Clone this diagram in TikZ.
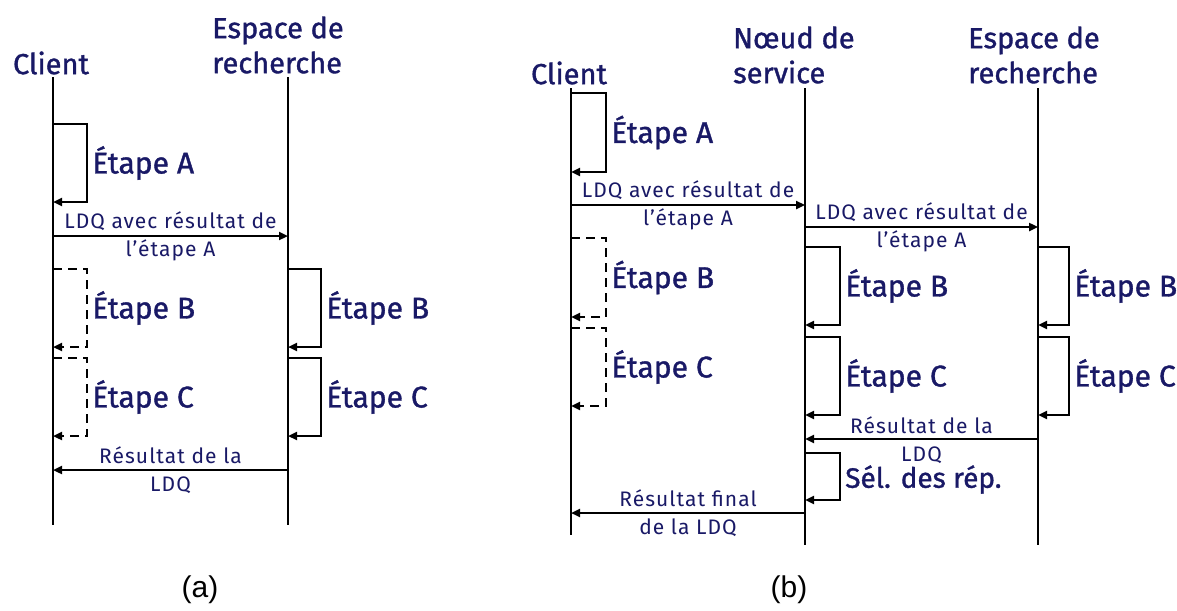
\documentclass[tikz,border=0pt]{standalone}
\usepackage{fontspec}
\setmainfont{Fira Sans}
\newfontfamily\heavyfont[FakeBold=1.2]{Fira Sans}
\newfontfamily\smallfont[LetterSpace=5]{Fira Sans}
\newfontfamily\capfont{Liberation Sans}
\usetikzlibrary{arrows.meta}
\definecolor{navy}{HTML}{191966}
\begin{document}
\begin{tikzpicture}[x=1pt,y=-1pt,
  life/.style={line width=2.7pt},
  msg/.style={line width=2.5pt,-{Triangle[length=9pt,width=8pt]}},
  selfloop/.style={line width=2.5pt,-{Triangle[length=9pt,width=8pt]}},
  dloop/.style={selfloop,dash pattern=on 9pt off 6pt},
  hdr/.style={text=navy,font=\heavyfont\fontsize{29}{35}\selectfont,align=left,inner sep=0pt},
  steplbl/.style={text=navy,font=\heavyfont\fontsize{30}{34}\selectfont,anchor=west,inner sep=0pt,xshift=4pt},
  lbl/.style={text=navy,font=\smallfont\fontsize{21}{28}\selectfont,align=center,inner sep=0pt},
  sublbl/.style={font=\capfont\fontsize{30}{34}\selectfont,inner sep=0pt}]
\useasboundingbox (0,0) rectangle (1177,610);
% ---------------- panel (a) ----------------
\node[hdr] (aClient) at (51,63) {Client};
\node[hdr,anchor=west] (aEsp) at (212,45) {Espace de\\recherche};
\coordinate (aCt) at (53,77);  \coordinate (aCb) at (53,525);
\coordinate (aEt) at (288,77); \coordinate (aEb) at (288,525);
\draw[life] (aCt) -- (aCb);
\draw[life] (aEt) -- (aEb);
\coordinate (aA1) at (53,124); \coordinate (aA2) at (53,202);
\draw[selfloop] (aA1) -- ++(34,0) |- node[pos=0.25,steplbl] (aStA) {Étape A} (aA2);
\coordinate (aM1s) at (53,236); \coordinate (aM1e) at (288,236);
\draw[msg] (aM1s) -- node[lbl] (aL1) {LDQ avec résultat de\\l’étape A} (aM1e);
\coordinate (aB1) at (53,269); \coordinate (aB2) at (53,347);
\draw[dloop] (aB1) -- ++(34,0) |- node[pos=0.25,steplbl] (aStB) {Étape B} (aB2);
\coordinate (aC1) at (53,358); \coordinate (aC2) at (53,436);
\draw[dloop] (aC1) -- ++(34,0) |- node[pos=0.25,steplbl] (aStC) {Étape C} (aC2);
\coordinate (aEB1) at (288,269); \coordinate (aEB2) at (288,347);
\draw[selfloop] (aEB1) -- ++(33,0) |- node[pos=0.25,steplbl] (aStEB) {Étape B} (aEB2);
\coordinate (aEC1) at (288,358); \coordinate (aEC2) at (288,436);
\draw[selfloop] (aEC1) -- ++(33,0) |- node[pos=0.25,steplbl] (aStEC) {Étape C} (aEC2);
\coordinate (aM2s) at (288,470); \coordinate (aM2e) at (53,470);
\draw[msg] (aM2s) -- node[lbl] (aL2) {Résultat de la\\LDQ} (aM2e);
\node[sublbl] (capA) at (200,590) {(a)};
% ---------------- panel (b) ----------------
\node[hdr] (bClient) at (569,73) {Client};
\node[hdr,anchor=west] (bNoeud) at (733,55) {Nœud de\\service};
\node[hdr,anchor=west] (bEsp) at (968,55) {Espace de\\recherche};
\coordinate (bCt) at (571,88);  \coordinate (bCb) at (571,535);
\coordinate (bNt) at (805,88);  \coordinate (bNb) at (805,545);
\coordinate (bEt) at (1038,88); \coordinate (bEb) at (1038,545);
\draw[life] (bCt) -- (bCb);
\draw[life] (bNt) -- (bNb);
\draw[life] (bEt) -- (bEb);
\coordinate (bA1) at (571,93); \coordinate (bA2) at (571,172);
\draw[selfloop] (bA1) -- ++(35,0) |- node[pos=0.25,steplbl] (bStA) {Étape A} (bA2);
\coordinate (bM1s) at (571,205); \coordinate (bM1e) at (805,205);
\draw[msg] (bM1s) -- node[lbl] (bL1) {LDQ avec résultat de\\l’étape A} (bM1e);
\coordinate (bM2s) at (805,227); \coordinate (bM2e) at (1038,227);
\draw[msg] (bM2s) -- node[lbl] (bL2) {LDQ avec résultat de\\l’étape A} (bM2e);
\coordinate (bB1) at (571,238); \coordinate (bB2) at (571,317);
\draw[dloop] (bB1) -- ++(35,0) |- node[pos=0.25,steplbl] (bStB) {Étape B} (bB2);
\coordinate (bC1) at (571,328); \coordinate (bC2) at (571,406);
\draw[dloop] (bC1) -- ++(35,0) |- node[pos=0.25,steplbl] (bStC) {Étape C} (bC2);
\coordinate (bNB1) at (805,247); \coordinate (bNB2) at (805,325);
\draw[selfloop] (bNB1) -- ++(35,0) |- node[pos=0.25,steplbl] (bStNB) {Étape B} (bNB2);
\coordinate (bNC1) at (805,337); \coordinate (bNC2) at (805,415);
\draw[selfloop] (bNC1) -- ++(35,0) |- node[pos=0.25,steplbl] (bStNC) {Étape C} (bNC2);
\coordinate (bEB1) at (1038,247); \coordinate (bEB2) at (1038,325);
\draw[selfloop] (bEB1) -- ++(31,0) |- node[pos=0.25,steplbl] (bStEB) {Étape B} (bEB2);
\coordinate (bEC1) at (1038,337); \coordinate (bEC2) at (1038,415);
\draw[selfloop] (bEC1) -- ++(31,0) |- node[pos=0.25,steplbl] (bStEC) {Étape C} (bEC2);
\coordinate (bM3s) at (1038,439); \coordinate (bM3e) at (805,439);
\draw[msg] (bM3s) -- node[lbl,yshift=-1pt] (bL3) {Résultat de la\\LDQ} (bM3e);
\coordinate (bS1) at (805,453); \coordinate (bS2) at (805,500);
\draw[selfloop] (bS1) -- ++(35,0) |- node[pos=0.25,steplbl,font=\heavyfont\fontsize{28}{32}\selectfont,yshift=-3pt] (bStS) {Sél. des rép.} (bS2);
\coordinate (bM4s) at (805,513); \coordinate (bM4e) at (571,513);
\draw[msg] (bM4s) -- node[lbl] (bL4) {Résultat final\\de la LDQ} (bM4e);
\node[sublbl] (capB) at (789,590) {(b)};
\end{tikzpicture}
\end{document}
